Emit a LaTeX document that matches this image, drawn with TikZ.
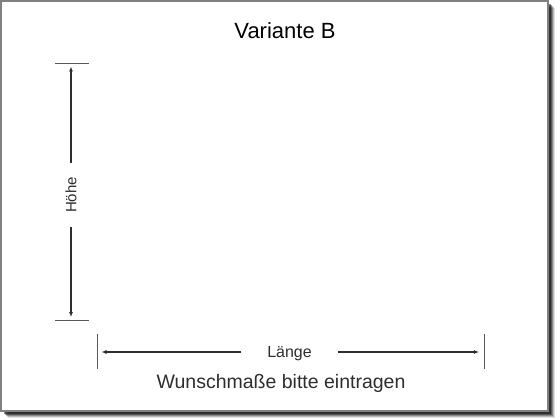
\documentclass[tikz,border=0pt]{standalone}
\usepackage{fontspec}
\setmainfont{Liberation Sans}
\usetikzlibrary{arrows.meta,positioning}
\definecolor{framegray}{gray}{0.5}
\definecolor{inkgray}{gray}{0.18}
\tikzset{
    frame/.style = {
        draw=framegray,
        line width=1.4pt,
        fill=white,
        },
    shade layer/.style = {
        fill=black,
        draw=none,
        },
    dim arrow/.style = {
        draw=inkgray,
        line width=1.2pt,
        -{Latex[length=5pt,width=4pt]},
        },
    tick/.style = {
        draw=inkgray!80,
        line width=0.9pt,
        },
    dim label/.style = {
        text=inkgray,
        inner sep=0pt,
        },
    title text/.style = {
        text=black,
        font=\fontsize{22}{26}\selectfont,
        },
}

\begin{document}
\begin{tikzpicture}[x=1pt,y=-1pt]
            \useasboundingbox (0,0) rectangle (560,420);

            % shadow of the sheet
            \foreach \d/\o in {7/0.12,6/0.18,5/0.26,4/0.36,3/0.46}
                \fill[shade layer, opacity=\o] (1+\d,1+\d) rectangle (548+\d,411+\d);
            \draw[frame] (1,1) rectangle (548,411);

            \node[title text, anchor=base] (title) at (285,38.3) {Variante B};

            % height
            \coordinate (h top l) at (55,63.5);
            \coordinate (h top r) at (88.5,63.5);
            \coordinate (h bot l) at (55,320);
            \coordinate (h bot r) at (88.5,320);
            \coordinate (h top) at (71,66.5);
            \coordinate (h bot) at (71,317);
            \draw[tick] (h top l) -- (h top r);
            \draw[tick] (h bot l) -- (h bot r);
            \node[dim label, font=\fontsize{15}{17}\selectfont, rotate=90,
                  text height=10.7pt, text depth=0pt,
                  minimum width=64pt] (hoehe) at (71,195) {Höhe};
            \path (hoehe.east) edge[dim arrow] (h top);
            \path (hoehe.west) edge[dim arrow] (h bot);

            % length
            \coordinate (l left t) at (97.5,334);
            \coordinate (l left b) at (97.5,369);
            \coordinate (l right t) at (484,334);
            \coordinate (l right b) at (484,369);
            \coordinate (l left) at (101.5,352);
            \coordinate (l right) at (479,352);
            \draw[tick] (l left t) -- (l left b);
            \draw[tick] (l right t) -- (l right b);
            \node[dim label, font=\fontsize{16}{18}\selectfont,
                  text height=11.5pt, text depth=0pt,
                  minimum width=96pt] (laenge) at (289.5,352) {Länge};
            \path (laenge.west) edge[dim arrow] (l left);
            \path (laenge.east) edge[dim arrow] (l right);

            \node[dim label, font=\fontsize{19.5}{22}\selectfont] (wunsch) at (281,383) {Wunschmaße bitte eintragen};
        \end{tikzpicture}
\end{document}
